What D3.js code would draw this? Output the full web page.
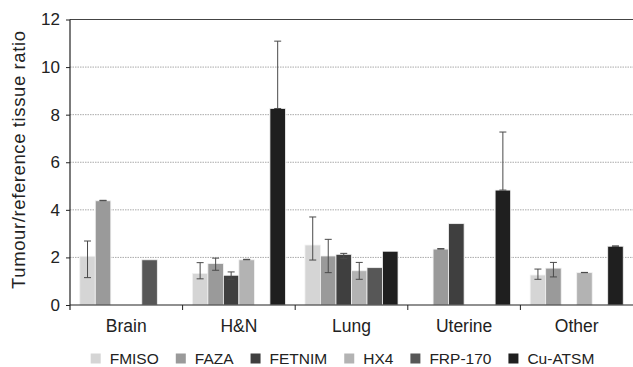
<!DOCTYPE html>
<html>
<head>
<meta charset="utf-8">
<script src="https://cdn.jsdelivr.net/npm/d3@7"></script>
<style>
  html, body { margin: 0; padding: 0; background: #ffffff; }
  svg { display: block; font-family: "Liberation Sans", Arial, Helvetica, sans-serif; }
</style>
</head>
<body>
<svg id="chart" width="633" height="367"></svg>
<script>
// ---- Data ----
const categories = ["Brain", "H&N", "Lung", "Uterine", "Other"];
const seriesNames = ["FMISO", "FAZA", "FETNIM", "HX4", "FRP-170", "Cu-ATSM"];
const seriesColors = ["#d5d5d5", "#9a9a9a", "#3f3f3f", "#b3b3b3", "#575757", "#1f1f1f"];

const valuesFMISO  = [2.05, 1.33, 2.52, null, 1.26];
const valuesFAZA   = [4.38, 1.74, 2.06, 2.35, 1.55];
const valuesFETNIM = [null, 1.25, 2.13, 3.42, null];
const valuesHX4    = [null, 1.90, 1.44, null, 1.36];
const valuesFRP170 = [1.90, null, 1.57, null, null];
const valuesCuATSM = [null, 8.26, 2.26, 4.83, 2.47];

// error bar [low, high] bounds (null = none drawn)
const errFMISO  = [[1.15, 2.69], [1.10, 1.78], [1.89, 3.70], null, [1.08, 1.51]];
const errFAZA   = [[4.38, 4.40], [1.46, 1.97], [1.36, 2.76], [2.35, 2.37], [1.18, 1.79]];
const errFETNIM = [null, [1.08, 1.39], [1.95, 2.17], null, null];
const errHX4    = [null, [1.90, 1.92], [1.08, 1.79], null, [1.36, 1.37]];
const errFRP170 = [null, null, null, null, null];
const errCuATSM = [null, [8.26, 11.09], null, [4.83, 7.27], [2.47, 2.48]];

const yTicks = [0, 2, 4, 6, 8, 10, 12];
const yTitle = "Tumour/reference tissue ratio";

const seriesValues = [valuesFMISO, valuesFAZA, valuesFETNIM, valuesHX4, valuesFRP170, valuesCuATSM];
const seriesErrors = [errFMISO, errFAZA, errFETNIM, errHX4, errFRP170, errCuATSM];

// ---- Layout ----
const svg = d3.select("#chart");
const mLeft = 70, mRight = 633, mTop = 19.5, mBottom = 305;

const x0 = d3.scaleBand().domain(categories).range([mLeft, mRight]).padding(0);
const x1 = d3.scaleBand().domain(seriesNames).range([0, x0.bandwidth()]).paddingInner(0).paddingOuter(0.63);
const y = d3.scaleLinear().domain([0, 12]).range([mBottom, mTop]);

// gridlines
const grid = svg.append("g");
yTicks.filter(t => t > 0 && t < 12).forEach(t => {
  grid.append("line")
    .attr("x1", mLeft).attr("x2", mRight)
    .attr("y1", y(t)).attr("y2", y(t))
    .attr("stroke", "#a0a0a0").attr("stroke-width", 0.9)
    .attr("stroke-dasharray", "1.5,1");
});
grid.append("line")
  .attr("x1", mLeft).attr("x2", mRight)
  .attr("y1", y(12)).attr("y2", y(12))
  .attr("stroke", "#444").attr("stroke-width", 1.2);

// bars
const flat = [];
seriesNames.forEach((s, si) => {
  categories.forEach((c, ci) => {
    const v = seriesValues[si][ci];
    if (v != null) flat.push({ s, si, c, v, err: seriesErrors[si][ci] });
  });
});

svg.append("g").selectAll("rect").data(flat).join("rect")
  .attr("x", d => x0(d.c) + x1(d.s))
  .attr("width", x1.bandwidth())
  .attr("y", d => y(d.v))
  .attr("height", d => y(0) - y(d.v))
  .attr("fill", d => seriesColors[d.si])
  .attr("stroke", "#f2f2f2").attr("stroke-width", 0.8);

// error bars
const eg = svg.append("g").attr("stroke", "#4a4a4a").attr("stroke-width", 1).attr("fill", "none");
flat.filter(d => d.err).forEach(d => {
  const cx = x0(d.c) + x1(d.s) + x1.bandwidth() / 2;
  const lo = y(d.err[0]), hi = y(d.err[1]);
  const cap = 3.5;
  eg.append("line").attr("x1", cx).attr("x2", cx).attr("y1", lo).attr("y2", hi);
  eg.append("line").attr("x1", cx - cap).attr("x2", cx + cap).attr("y1", hi).attr("y2", hi);
  eg.append("line").attr("x1", cx - cap).attr("x2", cx + cap).attr("y1", lo).attr("y2", lo);
});

// y axis
const yAxis = d3.axisLeft(y).tickValues(yTicks).tickSize(4).tickPadding(6).tickFormat(d3.format("d"));
const yg = svg.append("g").attr("transform", `translate(${mLeft},0)`).call(yAxis);
yg.select(".domain").remove();
yg.selectAll(".tick line").attr("stroke", "#222");
yg.selectAll(".tick text").attr("font-size", "17px").attr("fill", "#222")
  .attr("font-family", "'Liberation Sans', Arial, sans-serif");
svg.append("line").attr("x1", mLeft).attr("x2", mLeft).attr("y1", y(12)).attr("y2", mBottom + 5)
  .attr("stroke", "#222").attr("stroke-width", 1.2);

// x axis
const xg = svg.append("g");
xg.append("line").attr("x1", mLeft).attr("x2", mRight).attr("y1", mBottom).attr("y2", mBottom)
  .attr("stroke", "#222").attr("stroke-width", 1.2);
categories.forEach((c, i) => {
  const bx = x0(c);
  if (i > 0) xg.append("line").attr("x1", bx).attr("x2", bx).attr("y1", mBottom).attr("y2", mBottom + 5)
    .attr("stroke", "#222").attr("stroke-width", 1);
  xg.append("text").attr("x", bx + x0.bandwidth() / 2).attr("y", 331.5)
    .attr("text-anchor", "middle").attr("font-size", "17.5px").attr("fill", "#222").text(c);
});

// y title
svg.append("text")
  .attr("transform", `translate(25,${(31 + 289) / 2}) rotate(-90)`)
  .attr("text-anchor", "middle")
  .attr("font-size", "18.5px").attr("fill", "#222")
  .attr("textLength", 258).attr("lengthAdjust", "spacing")
  .text(yTitle);

// legend
const lg = svg.append("g");
let lx = 90.7;
seriesNames.forEach((s, i) => {
  lg.append("rect").attr("x", lx).attr("y", 353.5).attr("width", 10).attr("height", 10)
    .attr("fill", seriesColors[i]);
  const t = lg.append("text").attr("x", lx + 19).attr("y", 364)
    .attr("font-size", "15.5px").attr("fill", "#222").text(s);
  const w = t.node().getComputedTextLength();
  lx = lx + 19 + w + 17;
});
</script>
</body>
</html>
